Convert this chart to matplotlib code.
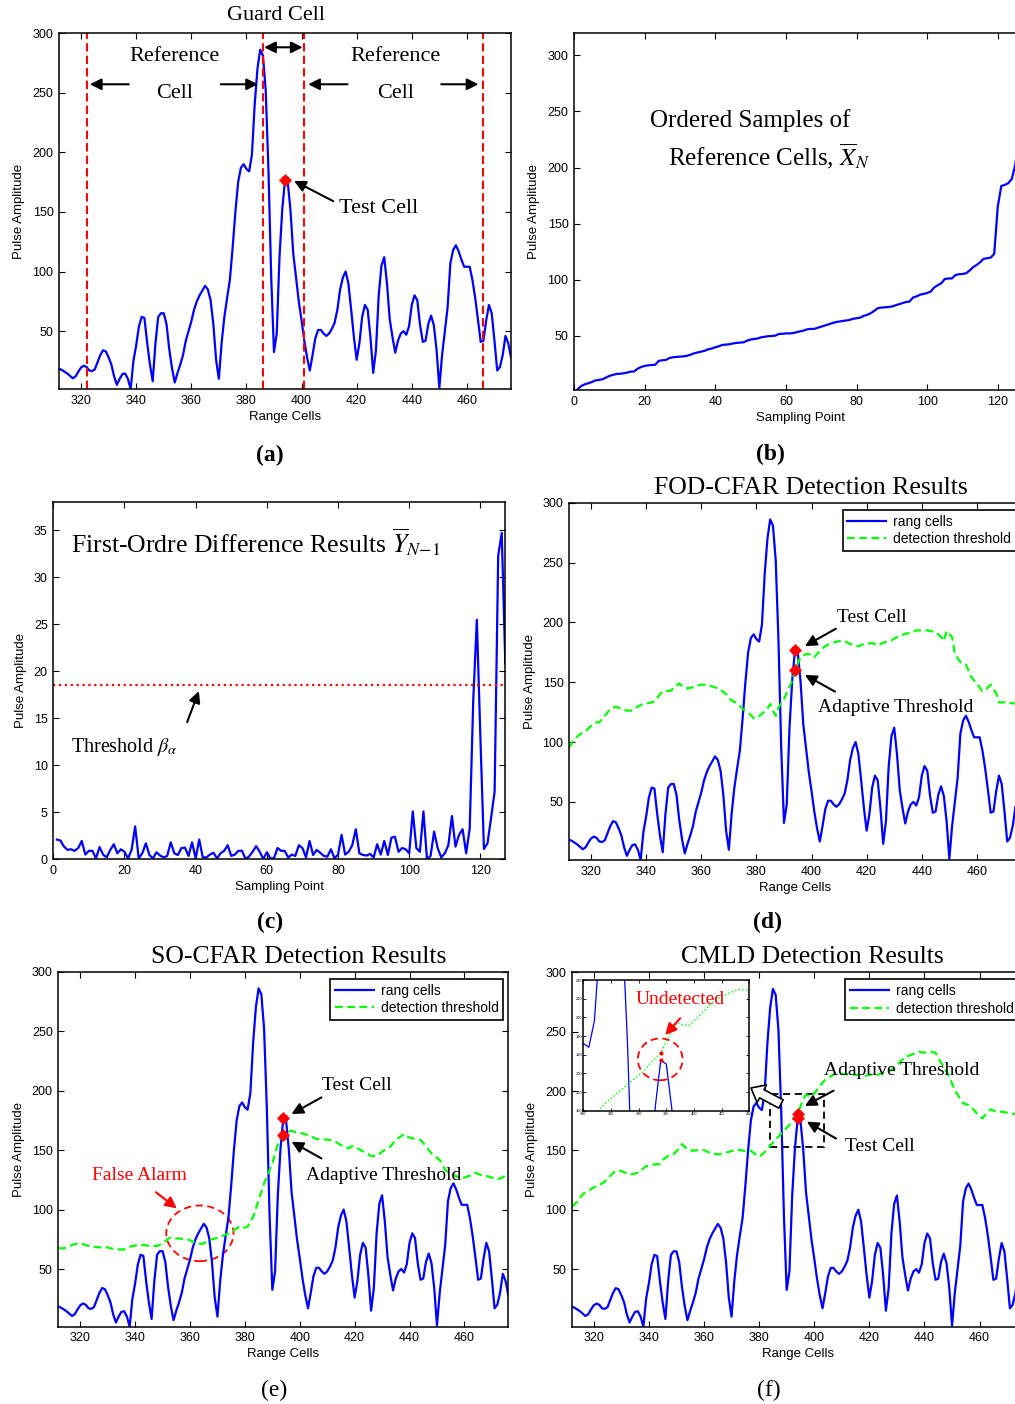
import matplotlib
matplotlib.use('Agg')
import matplotlib.pyplot as plt
import numpy as np
from matplotlib.patches import Ellipse, Rectangle

plt.rcParams['font.family'] = ['Liberation Sans', 'DejaVu Sans']
plt.rcParams['mathtext.fontset'] = 'stix'
SERIF = ['Liberation Serif', 'DejaVu Serif']

# ---------------- data ----------------
cell_start, cell_end = 312, 476
signal = [18.5, 17.5, 16, 14.5, 12.5, 10.5, 12, 16, 19.5, 21,          # 312-321
          20, 17, 16.5, 18, 24, 30, 34, 33, 28, 22,                     # 322-331
          12, 5, 10, 14, 14.5, 10, 1.5, 25, 38, 54,                     # 332-341
          62, 61, 40, 22, 8, 40, 62, 65, 65, 56,                        # 342-351
          35, 19, 7, 15, 22, 30, 42, 50, 58, 68,                        # 352-361
          75, 80, 84, 88, 85, 76, 56, 26, 10, 40,                       # 362-371
          62, 78, 93, 120, 150, 175, 187, 190, 186, 184,                # 372-381
          198, 240, 270, 286, 281, 252, 185, 95, 32.5, 48,              # 382-391
          112, 152, 177, 175, 151, 115, 95, 75, 59, 42,                 # 392-401
          28, 17, 30, 44, 51, 51, 48, 46, 48, 52,                       # 402-411
          57, 68, 85, 95, 100, 90, 68, 45, 26, 40,                      # 412-421
          62, 72, 68, 45, 15, 34, 80, 105, 112, 90,                     # 422-431
          60, 45, 32, 42, 48, 50, 47, 54, 72, 80,                       # 432-441
          76, 55, 41, 42, 56, 63, 55, 34, 2.5, 30,                      # 442-451
          50, 70, 107, 118, 122, 117, 110, 104, 104, 104,               # 452-461
          93, 78, 60, 41, 42, 59, 72, 65, 42, 17,                       # 462-471
          20, 30, 46, 40, 28]                                           # 472-476
test_cell, test_value = 394, 177
window_lines = [322, 386, 401, 466]

sorted_ref = [2, 5, 6.5, 7.5, 8.5, 10, 10.5, 11, 12.5, 14,
              15, 15.8, 16, 16.4, 17, 17.9, 18, 20.5, 22, 23,
              23.5, 23.8, 24, 27.5, 28, 28.3, 30, 30.7, 31, 31.3,
              31.5, 32, 33, 34.2, 35, 35.7, 36.5, 37.8, 38.5, 39.6,
              40.5, 41.7, 42, 42.3, 43, 43.5, 43.8, 44, 45.5, 46.5,
              47, 47.5, 48.5, 49, 49.5, 49.7, 50, 51.5, 51.6, 52,
              52, 52.3, 53, 53.6, 54.5, 55.6, 56, 56, 57, 58,
              59, 60, 61, 62, 62.5, 63.1, 63.5, 64, 65, 65.5,
              66, 67.6, 68.5, 70, 72, 74.4, 75, 75.3, 75.5, 76,
              77, 78, 79, 80, 80.4, 84, 85, 86.5, 87.2, 88,
              89.3, 93, 95, 96.7, 100.5, 101, 101, 104, 104.8, 105,
              105.6, 108, 111, 113, 115.5, 118.5, 119, 119.6, 123, 165,
              183.5, 184.5, 186, 190, 203, 232, 267, 288]

first_diff = [2.1, 2.0, 1.35, 1.0, 1.07, 0.9, 1.2, 1.95, 0.5, 0.9,
              0.9, 0.1, 1.3, 0.5, 0.2, 1.0, 1.6, 0.64, 1.07, 0.8,
              0.1, 1.0, 3.5, 0.1, 0.64, 1.7, 0.46, 0.1, 0.75, 0.4,
              0.2, 0.36, 1.8, 0.64, 0.46, 1.2, 1.24, 0.36, 1.8, 0.1,
              2.1, 0.2, 0.2, 0.5, 0.7, 0.1, 0.64, 0.9, 1.5, 0.36,
              0.5, 0.9, 0.92, 0.04, 0.3, 0.8, 1.4, 0.8, 0.04, 0.75,
              0.1, 0.1, 1.2, 0.9, 0.9, 0.2, 0.5, 0.36, 1.5, 1.2,
              0.2, 1.95, 0.46, 1.0, 0.7, 0.36, 0.28, 1.07, 0.1, 0.5,
              2.6, 0.5, 0.8, 1.5, 3.2, 0.64, 0.46, 0.4, 0.57, 0.2,
              1.6, 0.5, 1.95, 0.46, 2.3, 2.4, 0.8, 1.2, 1.07, 0.64,
              5.1, 1.2, 0.8, 5.1, 0.0, 0.36, 2.95, 1.2, 0.2, 0.64,
              1.5, 4.6, 1.35, 2.6, 3.2, 0.64, 3.3, 17, 25.5, 13,
              1.1, 1.7, 4.4, 7.2, 32.3, 34.75, 20.9]
beta_threshold = 18.5

fod_cells = [312, 314, 316, 318, 320, 322, 323, 325, 327, 329, 331, 333, 335, 337, 339,
             342, 343, 345, 346, 349, 351, 352, 354, 356, 358, 360, 362, 365, 367, 369,
             371, 373, 375, 377, 379, 380, 382, 384, 385, 386, 387, 388, 390, 391, 393,
             394, 396, 398, 400, 401, 403, 405, 407, 410, 412, 414, 417, 419, 422, 424,
             426, 429, 431, 434, 436, 438, 442, 445, 447, 448, 449, 451, 452, 454, 456,
             458, 460, 462, 463, 465, 467, 468, 471, 473, 476]
fod_thresh = [95.5, 102.5, 106.7, 109, 113.7, 116.5, 116.5, 122, 127.7, 129.6, 127.7, 126.3, 126.3, 130, 131.8,
              133.2, 133.8, 140, 142.5, 143, 147.2, 149, 145, 145, 147.2, 148, 147.8, 145.8, 143.6, 140,
              134.6, 132.7, 127.7, 124.9, 120, 120, 123.5, 128, 131.8, 126.3, 122, 129, 136, 141, 151.4,
              160, 171, 173.7, 173.2, 171, 176, 180.2, 182.7, 184.4, 184.4, 182, 180, 182, 182.7, 180.7,
              183, 185, 187.7, 190.5, 191.3, 193.3, 193.3, 192, 187.7, 184.4, 192.7, 187.7, 173.7, 166.8, 164.8,
              154.2, 148.6, 142.5, 143.6, 148, 140.8, 133.2, 133.2, 132.4, 132]

so_cells = [312, 314, 316, 318, 320, 322, 324, 327, 329, 331, 333, 336, 338, 341, 343,
            345, 348, 350, 352, 353, 355, 358, 359, 361, 364, 365, 367, 370, 372, 374,
            376, 378, 379, 381, 383, 385, 387, 388, 390, 391, 392, 393, 394, 395, 397,
            399, 401, 404, 406, 408, 411, 413, 416, 418, 419, 421, 424, 426, 428, 430,
            433, 435, 438, 439, 442, 444, 446, 448, 451, 453, 456, 458, 459, 462, 464,
            466, 468, 470, 472, 474, 476]
so_thresh = [67.4, 67.4, 69.3, 71, 71.6, 70.2, 68.8, 68.2, 68.8, 67.4, 66.5, 66.5, 68.8, 70.2, 70.2,
             69.6, 69.3, 71.6, 75.5, 76.3, 75.8, 75.2, 75.2, 73, 71, 71.6, 74.4, 76.3, 78, 80,
             82.8, 85.6, 84.2, 85.6, 94, 108, 122, 127.6, 138.8, 147, 155, 160, 163, 164.6, 166.3,
             164.6, 164, 161.8, 159.3, 159.3, 158.5, 157, 152.9, 151.5, 153.4, 151.5, 147.8, 145, 145, 148.7,
             152.9, 158.5, 163.5, 161.3, 159.3, 158.5, 153.4, 147.2, 141.6, 133.2, 129, 127, 126.2, 128.5, 131,
             129, 128.2, 127, 125.4, 127, 130.4]

cmld_cells = [312, 314, 316, 318, 320, 322, 324, 326, 328, 330, 332, 334, 336, 338, 339,
              342, 344, 345, 347, 349, 351, 352, 354, 356, 358, 360, 362, 365, 367, 370,
              372, 375, 377, 379, 380, 381, 382, 383, 384, 385, 386, 387, 388, 389, 390,
              391, 392, 393, 394, 395, 396, 397, 398, 399, 400, 401, 402, 403, 404, 405,
              406, 408, 411, 413, 416, 418, 421, 423, 425, 428, 430, 433, 435, 438, 440,
              442, 444, 445, 447, 449, 451, 453, 454, 456, 458, 460, 461, 462, 464, 466,
              468, 470, 473, 476]
cmld_thresh = [102.5, 106.7, 113.2, 116, 118.8, 120.8, 123.6, 128.7, 132.9, 132.6, 130.6, 129.8, 131.2, 134.8, 136.8,
               138.2, 138.5, 141.9, 145.5, 146.9, 151.7, 155.3, 150.8, 149.7, 150.3, 150.3, 148, 146.6, 147.5, 149.4,
               150.8, 149.4, 149.7, 146, 144.7, 146.5, 148.5, 151, 154, 156.5, 159, 161.5, 164, 166.5, 169,
               171.5, 175, 178, 181, 187, 193, 197, 196, 195.5, 198, 201, 204, 207, 209.5, 211,
               212.5, 214.9, 214.3, 214, 213.5, 212.6, 214, 213.5, 215.4, 217.7, 221.9, 228.9, 230.3, 233.1, 232.3,
               233.1, 232.3, 227.5, 220.5, 212, 200.8, 193, 189.6, 188.2, 184, 178.4, 177, 179.8, 184.6, 182.6,
               182.6, 181.7, 180.6, 180]

fod_test_thresh = 160
so_test_thresh = 163
cmld_test_thresh = 181

# ---------------- figure ----------------
W, H = 1015, 1404
fig = plt.figure(figsize=(W / 100, H / 100), dpi=100)

BLUE, GREEN, RED = '#0000FF', '#00FF00', '#FF0000'
GDASH = (0, (3.5, 2))


def box(l, t, w, h):
    return [l / W, 1 - (t + h) / H, w / W, h / H]


def ftxt(x, y, s, ha='center', **kw):
    fig.text(x / W, 1 - y / H, s, ha=ha, va='center', **kw)


def style(ax):
    ax.tick_params(direction='in', length=4, width=0.8, top=True, right=True,
                   labelsize=9, pad=4)
    for sp in ax.spines.values():
        sp.set_linewidth(1.1)


def arrow(ax, head, tail, color='k', st='-|>', ms=17):
    ax.annotate('', xy=head, xytext=tail,
                arrowprops=dict(arrowstyle=st, color=color, lw=1.5,
                                mutation_scale=ms, shrinkA=0, shrinkB=0),
                annotation_clip=False)


def mark(ax, x, y, ms=6):
    ax.plot([x], [y], 'o', color=RED, ms=ms, zorder=6)
    ax.plot([x], [y], '+', color=RED, ms=ms + 2.5, mew=1.8, zorder=6)


cells = np.arange(cell_start, cell_end + 1)
sig = np.array(signal)
ymin = sig.min()


def range_axes(rect):
    ax = fig.add_axes(rect)
    ax.plot(cells, sig, color=BLUE, lw=1.6, label='rang cells')
    ax.set_xlim(cell_start, cell_end)
    ax.set_ylim(ymin, 300)
    ax.set_xticks(np.arange(320, 461, 20))
    ax.set_yticks(np.arange(50, 301, 50))
    ax.set_xlabel('Range Cells', fontsize=9.5, labelpad=3)
    ax.set_ylabel('Pulse Amplitude', fontsize=9.5, labelpad=5)
    style(ax)
    return ax


def legend(ax):
    w = ax.get_position().width * W
    h = ax.get_position().height * H
    lg = ax.legend(loc='upper right', bbox_to_anchor=(1 - 5 / w, 1 - 7 / h),
                   fontsize=10, fancybox=False, edgecolor='k',
                   framealpha=1, handlelength=2.8, labelspacing=0.25,
                   borderpad=0.35, borderaxespad=0, handletextpad=0.5)
    lg.get_frame().set_linewidth(1.2)


# ---- (a) ----
ax = range_axes(box(59, 33, 452, 356))
for xv in window_lines:
    ax.axvline(xv, color=RED, ls=(0, (4, 2)), lw=1.5)
mark(ax, test_cell, test_value)
ax.text(354, 280, 'Reference', ha='center', va='center', fontsize=16, family=SERIF)
ax.text(354, 249, 'Cell', ha='center', va='center', fontsize=16, family=SERIF)
ax.text(434, 280, 'Reference', ha='center', va='center', fontsize=16, family=SERIF)
ax.text(434, 249, 'Cell', ha='center', va='center', fontsize=16, family=SERIF)
arrow(ax, (323.2, 257), (337.3, 257))
arrow(ax, (384.2, 257), (370.7, 257))
arrow(ax, (402.4, 257), (416.7, 257))
arrow(ax, (464.2, 257), (450.7, 257))
arrow(ax, (400.4, 288), (386.4, 288), st='<|-|>')
arrow(ax, (397.3, 176), (411.5, 159))
ax.text(413.7, 153, 'Test Cell', ha='left', va='center', fontsize=16, family=SERIF)
ftxt(276, 16, 'Guard Cell', fontsize=16, family=SERIF)
ftxt(270, 455, '(a)', fontsize=17, family=SERIF, fontweight='bold')

# ---- (b) ----
ax = fig.add_axes(box(574, 33, 452, 357))
ax.plot(np.arange(1, len(sorted_ref) + 1), sorted_ref, color=BLUE, lw=1.6)
ax.set_xlim(0, 128)
ax.set_ylim(1.5, 320)
ax.set_xticks(np.arange(0, 121, 20))
ax.set_yticks(np.arange(50, 301, 50))
ax.set_xlabel('Sampling Point', fontsize=9.5, labelpad=3)
ax.set_ylabel('Pulse Amplitude', fontsize=9.5, labelpad=5)
style(ax)
ftxt(650, 121, 'Ordered Samples of', ha='left', fontsize=18, family=SERIF)
ftxt(668, 156, r'Reference Cells, $\overline{X}_N$', ha='left', fontsize=18, family=SERIF)
ftxt(770, 454, '(b)', fontsize=17, family=SERIF, fontweight='bold')

# ---- (c) ----
ax = fig.add_axes(box(53.3, 502.3, 452, 357))
ax.plot(np.arange(1, len(first_diff) + 1), first_diff, color=BLUE, lw=1.6)
ax.axhline(beta_threshold, color=RED, ls=':', lw=1.6)
ax.set_xlim(0, 127)
ax.set_ylim(0, 38)
ax.set_xticks(np.arange(0, 121, 20))
ax.set_yticks(np.arange(0, 36, 5))
ax.set_xlabel('Sampling Point', fontsize=9.5, labelpad=3)
ax.set_ylabel('Pulse Amplitude', fontsize=9.5, labelpad=5)
style(ax)
arrow(ax, (40.9, 17.9), (37.6, 14.6))
ftxt(70.7, 542, r'First-Ordre Difference Results $\overline{Y}_{N\mathrm{-}1}$',
     ha='left', fontsize=18.5, family=SERIF)
ftxt(70.7, 747, r'Threshold $\beta_\alpha$', ha='left', fontsize=14.5, family=SERIF)
ftxt(270, 922, '(c)', fontsize=17, family=SERIF, fontweight='bold')

# ---- (d) ----
ax = range_axes(box(569, 502.7, 452, 357.3))
ax.plot(fod_cells, fod_thresh, color=GREEN, ls=GDASH, lw=1.6, label='detection threshold')
legend(ax)
mark(ax, test_cell, test_value)
mark(ax, test_cell, fod_test_thresh)
ax.text(409.2, 204, 'Test Cell', ha='left', va='center', fontsize=14, family=SERIF)
arrow(ax, (397.6, 180.2), (408.8, 194.7))
ax.text(402.4, 129, 'Adaptive Threshold', ha='left', va='center', fontsize=14, family=SERIF)
arrow(ax, (397.6, 156.1), (408.5, 142.2))
ftxt(811, 488, 'FOD-CFAR Detection Results', fontsize=18.5, family=SERIF)
ftxt(768, 922, '(d)', fontsize=17, family=SERIF, fontweight='bold')

# ---- (e) ----
ax = range_axes(box(58.3, 971.7, 450, 355))
ax.plot(so_cells, so_thresh, color=GREEN, ls=GDASH, lw=1.6, label='detection threshold')
legend(ax)
mark(ax, test_cell, test_value)
mark(ax, test_cell, so_test_thresh)
ax.text(408.2, 204, 'Test Cell', ha='left', va='center', fontsize=14, family=SERIF)
arrow(ax, (397, 180.3), (407.9, 194.3))
ax.text(402.2, 129, 'Adaptive Threshold', ha='left', va='center', fontsize=14, family=SERIF)
arrow(ax, (397, 157), (407.9, 143))
ax.text(324.2, 128.5, 'False Alarm', ha='left', va='center', fontsize=14, family=SERIF, color=RED)
arrow(ax, (355.2, 101), (347.6, 114.5), color=RED)
ax.add_patch(Ellipse((363.6, 80), 24.5, 46.8, fill=False, ec=RED, ls=(0, (4, 2.5)), lw=1.3))
ftxt(299, 957, 'SO-CFAR Detection Results', fontsize=18.5, family=SERIF)
ftxt(274, 1390, '(e)', fontsize=17, family=SERIF)

# ---- (f) ----
axf = range_axes(box(571.7, 972.3, 452, 354.4))
axf.plot(cmld_cells, cmld_thresh, color=GREEN, ls=GDASH, lw=1.6, label='detection threshold')
legend(axf)
mark(axf, test_cell, test_value)
mark(axf, test_cell, cmld_test_thresh)
axf.add_patch(Rectangle((384, 152.5), 19.6, 45, fill=False, ec='k', ls=(0, (4, 2.5)), lw=1.3))
axf.text(403.6, 217.7, 'Adaptive Threshold', ha='left', va='center', fontsize=14, family=SERIF)
arrow(axf, (396.6, 187.4), (407, 200.3))
axf.text(411.3, 153, 'Test Cell', ha='left', va='center', fontsize=14, family=SERIF)
arrow(axf, (397.3, 174.2), (407.9, 160))
axf.annotate('', xy=(751, H - 1088), xycoords='figure pixels',
             xytext=(781, H - 1104), textcoords='figure pixels',
             arrowprops=dict(arrowstyle='simple,head_length=0.55,head_width=0.9,tail_width=0.42',
                             fc='white', ec='k', lw=1.2, mutation_scale=16,
                             shrinkA=0, shrinkB=0))
ftxt(812.7, 957, 'CMLD Detection Results', fontsize=18.5, family=SERIF)
ftxt(769, 1390, '(f)', fontsize=17, family=SERIF)

# inset
axi = fig.add_axes(box(583.3, 980, 166, 130.7), zorder=5)
axi.plot(cells, sig, color=BLUE, lw=0.9)
axi.plot(cmld_cells, cmld_thresh, color=GREEN, ls=':', lw=1.0)
axi.set_xlim(380, 410)
axi.set_ylim(150, 220)
axi.set_xticks(np.arange(380, 411, 5))
axi.set_yticks(np.arange(150, 221, 10))
axi.tick_params(direction='in', length=2.5, width=0.6, top=True, right=True,
                labelsize=2.8, pad=1)
for sp in axi.spines.values():
    sp.set_linewidth(1.1)
axi.plot([test_cell], [test_value], 'o', color=RED, ms=2)
axi.plot([test_cell], [cmld_test_thresh], 'o', color=RED, ms=2)
axi.add_patch(Ellipse((393.9, 177.5), 8.1, 22.4, fill=False, ec=RED, ls=(0, (4, 2.5)), lw=1.3))
axi.text(397.5, 209.5, 'Undetected', ha='center', va='center', fontsize=14, family=SERIF, color=RED)
arrow(axi, (394.8, 190.5), (397.5, 199.5), color=RED)

fig.savefig('out.png', dpi=100)
